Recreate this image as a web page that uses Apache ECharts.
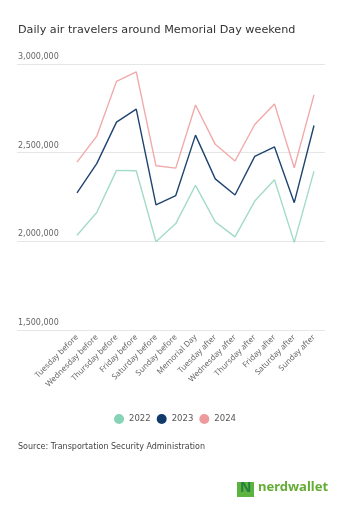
<!DOCTYPE html>
<html><head><meta charset="utf-8">
<script src="https://cdn.jsdelivr.net/npm/echarts@6/dist/echarts.min.js"></script>
<style>html,body{margin:0;padding:0;background:#fff}#c{width:350px;height:508px}</style>
</head><body><div id="c"></div>
<script>
const categories = ["Tuesday before","Wednesday before","Thursday before","Friday before","Saturday before","Sunday before","Memorial Day","Tuesday after","Wednesday after","Thursday after","Friday after","Saturday after","Sunday after"];
const y2022 = [2034000,2163000,2400000,2398000,1998000,2100000,2316000,2110000,2025000,2227000,2347000,1994000,2396000];
const y2023 = [2273000,2438000,2672000,2746000,2206000,2258000,2599000,2352000,2261000,2479000,2532000,2218000,2653000];
const y2024 = [2447000,2593000,2902000,2955000,2426000,2413000,2769000,2547000,2453000,2659000,2775000,2415000,2826000];
const yTicks = [1500000,2000000,2500000,3000000];

const FONT = "DejaVu Sans";
const FONT2 = "Noto Sans";
const chart = echarts.init(document.getElementById('c'), null, {renderer:'canvas'});
const fmt = v => v.toLocaleString('en-US');
chart.setOption({
  animation:false,
  textStyle:{fontFamily:FONT},
  title:{text:'Daily air travelers around Memorial Day weekend',left:13,top:20,
    textStyle:{fontSize:11.2,fontWeight:'normal',color:'#333',fontFamily:FONT}},
  grid:[
    {left:17,right:25,top:64,bottom:178,containLabel:false},
    {left:77,right:36,top:64,bottom:178,containLabel:false}
  ],
  xAxis:[
    {gridIndex:0,type:'value',show:false,min:0,max:1},
    {gridIndex:1,type:'category',data:categories,boundaryGap:false,
      axisLine:{show:false},axisTick:{show:false},
      axisLabel:{rotate:45,fontSize:8,color:'#6a6a6a',margin:6,interval:0,fontFamily:FONT2}}
  ],
  yAxis:[
    {gridIndex:0,type:'value',min:yTicks[0],max:yTicks[yTicks.length-1],interval:500000,
      axisLine:{show:false},axisTick:{show:false},
      splitLine:{lineStyle:{color:'#e6e6e6',width:1}},
      axisLabel:{inside:true,margin:1,verticalAlign:'bottom',fontSize:8,color:'#666',
        formatter:fmt,padding:[0,0,3,0],fontFamily:FONT}},
    {gridIndex:1,type:'value',min:yTicks[0],max:yTicks[yTicks.length-1],interval:500000,show:false}
  ],
  legend:{top:409,left:'center',itemGap:6,itemWidth:10,itemHeight:10,icon:'circle',
    textStyle:{fontSize:8.5,color:'#555',fontFamily:FONT},
    data:['2022','2023','2024']},
  series:[
    {name:'2022',type:'line',xAxisIndex:1,yAxisIndex:1,data:y2022,symbol:'none',
      lineStyle:{width:1.4,color:'#a3dcc6'},itemStyle:{color:'#86d3b8'}},
    {name:'2023',type:'line',xAxisIndex:1,yAxisIndex:1,data:y2023,symbol:'none',
      lineStyle:{width:1.4,color:'#1f4470'},itemStyle:{color:'#0f3a6a'}},
    {name:'2024',type:'line',xAxisIndex:1,yAxisIndex:1,data:y2024,symbol:'none',
      lineStyle:{width:1.4,color:'#f1aaaa'},itemStyle:{color:'#ee9a9c'}}
  ],
  graphic:[
    {type:'text',left:18,top:443,style:{text:'Source: Transportation Security Administration',
      fontSize:8,fill:'#444',fontFamily:FONT}},
    {type:'rect',left:237,top:482,shape:{width:17,height:15},style:{fill:'#5cb340'}},
    {type:'text',left:240,top:481,style:{text:'N',fontSize:14,fontWeight:'bold',fill:'#24803c',fontFamily:FONT2}},
    {type:'text',left:258,top:481,style:{text:'nerdwallet',fontSize:13,fontWeight:'bold',fill:'#63ad34',fontFamily:FONT2}}
  ]
});
</script></body></html>
